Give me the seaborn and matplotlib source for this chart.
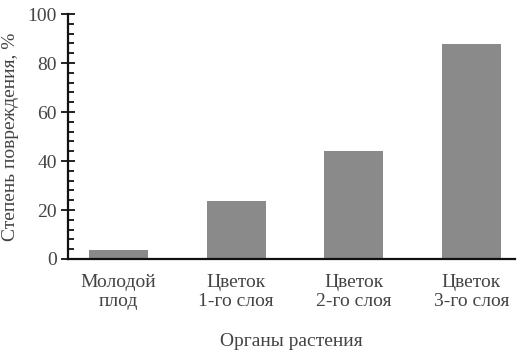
import matplotlib
matplotlib.use("Agg")
import matplotlib.pyplot as plt
from matplotlib.ticker import MultipleLocator
import seaborn as sns
import pandas as pd

organs = ["Молодой\nплод", "Цветок\n1-го слоя", "Цветок\n2-го слоя", "Цветок\n3-го слоя"]
damage = [3.7, 23.7, 44.2, 87.8]

sns.set_style("ticks")
plt.rcParams['font.family'] = ['Liberation Serif', 'DejaVu Serif']
text_col = "#444444"

df = pd.DataFrame({"organ": organs, "damage": damage})

fig = plt.figure(figsize=(5.2, 3.56), dpi=100)
ax = fig.add_axes([0.131, 0.2725, 0.859, 0.688])

sns.barplot(data=df, x="organ", y="damage", color="#8a8a8a", saturation=1,
            width=0.5, ax=ax, edgecolor="none")

ax.set_xlim(-0.43, 3.37)
ax.set_ylim(0, 100)
ax.yaxis.set_major_locator(MultipleLocator(20))
ax.yaxis.set_minor_locator(MultipleLocator(4))
ax.tick_params(axis="y", which="major", direction="inout", length=10, width=1.3,
               labelsize=14, colors="#111111", labelcolor=text_col, pad=3)
ax.tick_params(axis="y", which="minor", direction="in", length=4.5, width=1.3,
               colors="#111111")
ax.tick_params(axis="x", length=0, labelsize=14, labelcolor=text_col, pad=11)
for lab in ax.get_xticklabels():
    lab.set_linespacing(1.1)

sns.despine(ax=ax)
for s in ("left", "bottom"):
    ax.spines[s].set_linewidth(1.6)
    ax.spines[s].set_color("#111111")

ax.set_ylabel("Степень повреждения, %", fontsize=14, color=text_col, labelpad=6)
ax.set_xlabel("Органы растения", fontsize=14, color=text_col, labelpad=17)

fig.savefig("out.png", dpi=100)
